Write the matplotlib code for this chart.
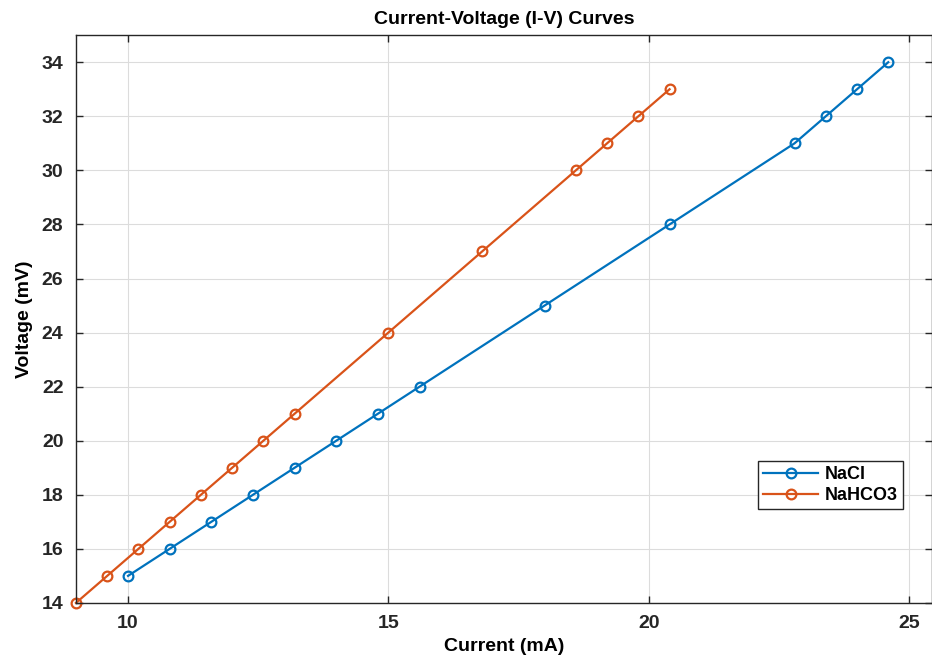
import matplotlib
matplotlib.use("Agg")
import matplotlib.pyplot as plt

plt.rcParams['font.family'] = ['Liberation Sans', 'DejaVu Sans']

nacl_current = [10, 10.8, 11.6, 12.4, 13.2, 14, 14.8, 15.6, 18, 20.4, 22.8, 23.4, 24, 24.6]
nacl_voltage = [15, 16, 17, 18, 19, 20, 21, 22, 25, 28, 31, 32, 33, 34]
nahco3_current = [9, 9.6, 10.2, 10.8, 11.4, 12, 12.6, 13.2, 15, 16.8, 18.6, 19.2, 19.8, 20.4]
nahco3_voltage = [14, 15, 16, 17, 18, 19, 20, 21, 24, 27, 30, 31, 32, 33]
xticks = [10, 15, 20, 25]
yticks = list(range(14, 35, 2))

fig = plt.figure(figsize=(9.32, 6.64), dpi=100)
ax = fig.add_axes([0.0815, 0.092, 0.9185, 0.855])

ax.plot(nacl_current, nacl_voltage, '-o', color='#0072BD', lw=1.6, ms=7,
        mfc='none', mew=1.6, label='NaCl')
ax.plot(nahco3_current, nahco3_voltage, '-o', color='#D95319', lw=1.6, ms=7,
        mfc='none', mew=1.6, label='NaHCO3', clip_on=False)

ax.set_xlim(9, 25.44)
ax.set_ylim(14, 35)
ax.set_xticks(xticks)
ax.set_yticks(yticks)
ax.grid(True, color='#dcdcdc', lw=0.8)
ax.set_axisbelow(True)
ax.tick_params(direction='in', length=5, width=1, top=True, right=True,
               labelsize=14, colors='#262626')
ax.tick_params(axis='y', pad=9)
ax.tick_params(axis='x', pad=9)
for lab in ax.get_xticklabels() + ax.get_yticklabels():
    lab.set_fontweight('bold')
for s in ax.spines.values():
    s.set_color('#262626')
    s.set_linewidth(1)

ax.set_title('Current-Voltage (I-V) Curves', fontsize=14, fontweight='bold', pad=8)
ax.set_xlabel('Current (mA)', fontsize=14, fontweight='bold', labelpad=4)
ax.set_ylabel('Voltage (mV)', fontsize=14, fontweight='bold', labelpad=6)

leg = ax.legend(loc='upper right', bbox_to_anchor=(0.977, 0.266),
                prop={'weight': 'bold', 'size': 13}, fancybox=False,
                edgecolor='#262626', framealpha=1, handlelength=3,
                borderpad=0.3, labelspacing=0.2, handletextpad=0.4)
leg.get_frame().set_linewidth(1)

fig.savefig('out.png', dpi=100)
